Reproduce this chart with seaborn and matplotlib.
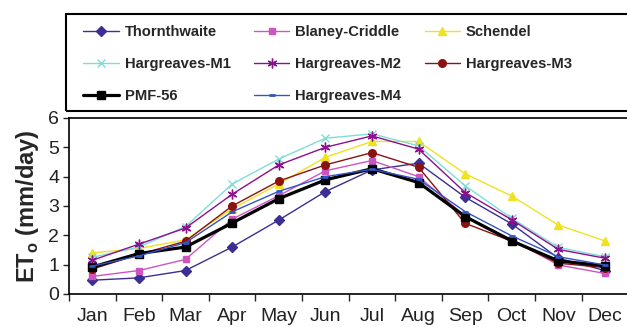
import numpy as np
import pandas as pd
import seaborn as sns
import matplotlib.pyplot as plt
from matplotlib.patches import Rectangle

sns.set_theme(style="ticks")
plt.rcParams['font.family'] = ['Liberation Sans', 'DejaVu Sans']
plt.rcParams['mathtext.fontset'] = 'custom'
plt.rcParams['mathtext.rm'] = 'Liberation Sans:bold'
plt.rcParams['mathtext.bf'] = 'Liberation Sans:bold'

# donnees (ETo en mm/jour)
mois = ['Jan', 'Feb', 'Mar', 'Apr', 'May', 'Jun', 'Jul', 'Aug', 'Sep', 'Oct', 'Nov', 'Dec']
thornthwaite = [0.47, 0.55, 0.8, 1.6, 2.52, 3.49, 4.23, 4.46, 3.3, 2.39, 1.22, 0.8]
blaney = [0.6, 0.8, 1.18, 2.55, 3.35, 4.2, 4.55, 4.0, 2.66, 1.85, 0.99, 0.7]
schendel = [1.4, 1.55, 1.85, 2.9, 3.75, 4.66, 5.2, 5.2, 4.1, 3.34, 2.35, 1.81]
harg_m1 = [1.25, 1.6, 2.3, 3.75, 4.6, 5.31, 5.46, 5.05, 3.69, 2.58, 1.59, 1.27]
harg_m2 = [1.15, 1.7, 2.25, 3.4, 4.4, 5.0, 5.39, 4.94, 3.46, 2.53, 1.52, 1.22]
harg_m3 = [0.85, 1.35, 1.8, 3.0, 3.85, 4.4, 4.82, 4.32, 2.41, 1.8, 1.05, 0.9]
pmf56 = [0.92, 1.38, 1.6, 2.42, 3.25, 3.89, 4.27, 3.8, 2.64, 1.81, 1.13, 0.96]
harg_m4 = [0.95, 1.3, 1.75, 2.8, 3.5, 4.0, 4.25, 3.91, 2.81, 1.98, 1.27, 0.99]

series = [
    ('Thornthwaite', thornthwaite, '#3b2e94', 'D', 5, 1.0),
    ('Blaney-Criddle', blaney, '#cc55c0', 's', 5, 1.0),
    ('Schendel', schendel, '#eee222', '^', 6, 1.0),
    ('Hargreaves-M1', harg_m1, '#80ddd6', 'x', 6, 1.0),
    ('Hargreaves-M2', harg_m2, '#8c108c', (6, 2, 0), 7, 1.0),
    ('Hargreaves-M3', harg_m3, '#8b1212', 'o', 5.5, 1.0),
    ('PMF-56', pmf56, '#000000', 's', 5.5, 2.3),
    ('Hargreaves-M4', harg_m4, '#3355c4', '_', 5, 1.0),
]

x = np.arange(len(mois))

fig = plt.figure(figsize=(6.27, 3.27), dpi=100)
ax = fig.add_axes([69 / 627, 1 - 294 / 327, 1.0 - 69 / 627 + 0.002, (294 - 118) / 327])

handles = {}
for nom, vals, coul, mk, ms, lw in series:
    df = pd.DataFrame({'x': x, 'y': vals})
    sns.lineplot(data=df, x='x', y='y', ax=ax, color=coul, marker=mk,
                 markersize=ms, linewidth=lw, markeredgecolor=coul,
                 markeredgewidth=2 if mk == '_' else 1, legend=False)
    handles[nom] = ax.lines[-1]

ax.set_xlim(-0.5, 11.5)
ax.set_ylim(0, 6)
ax.set_yticks(range(0, 7))
ax.set_xticks(np.arange(-0.5, 12, 1))
ax.set_xticklabels([])
ax.set_xticks(x, minor=True)
ax.set_xticklabels(mois, minor=True)
ax.tick_params(axis='x', which='minor', length=0, labelsize=14, pad=10, colors='#222222')
ax.tick_params(axis='x', which='major', length=5, width=1, direction='out')
ax.tick_params(axis='y', length=4, width=1, direction='out', labelsize=14, pad=3,
               colors='#222222')
ax.set_xlabel('')
ax.set_ylabel(r'ET$_\mathbf{o}$ (mm/day)', fontsize=17, fontweight='bold', labelpad=5)
for s in ['left', 'bottom', 'top']:
    ax.spines[s].set_color('black')
    ax.spines[s].set_linewidth(1.2)
ax.spines['right'].set_visible(False)

# remplissage par colonnes -> ordre pour avoir les lignes de la legende d'origine
ordre = ['Thornthwaite', 'Hargreaves-M1', 'PMF-56', 'Blaney-Criddle', 'Hargreaves-M2',
         'Hargreaves-M4', 'Schendel', 'Hargreaves-M3']
fig.legend(handles=[handles[n] for n in ordre], labels=ordre, ncol=3, loc='upper left',
           bbox_to_anchor=(76 / 627, 1 - 18 / 327), frameon=False, borderpad=0,
           handlelength=2.4, handletextpad=0.4, columnspacing=1.6, labelspacing=1.2,
           prop={'weight': 'bold', 'size': 10.6})
fig.patches.append(Rectangle((66 / 627, 1 - 111 / 327), (640 - 66) / 627, (111 - 14) / 327,
                             transform=fig.transFigure, fill=False, edgecolor='black',
                             linewidth=1.5))

fig.savefig('out.png', dpi=100)
